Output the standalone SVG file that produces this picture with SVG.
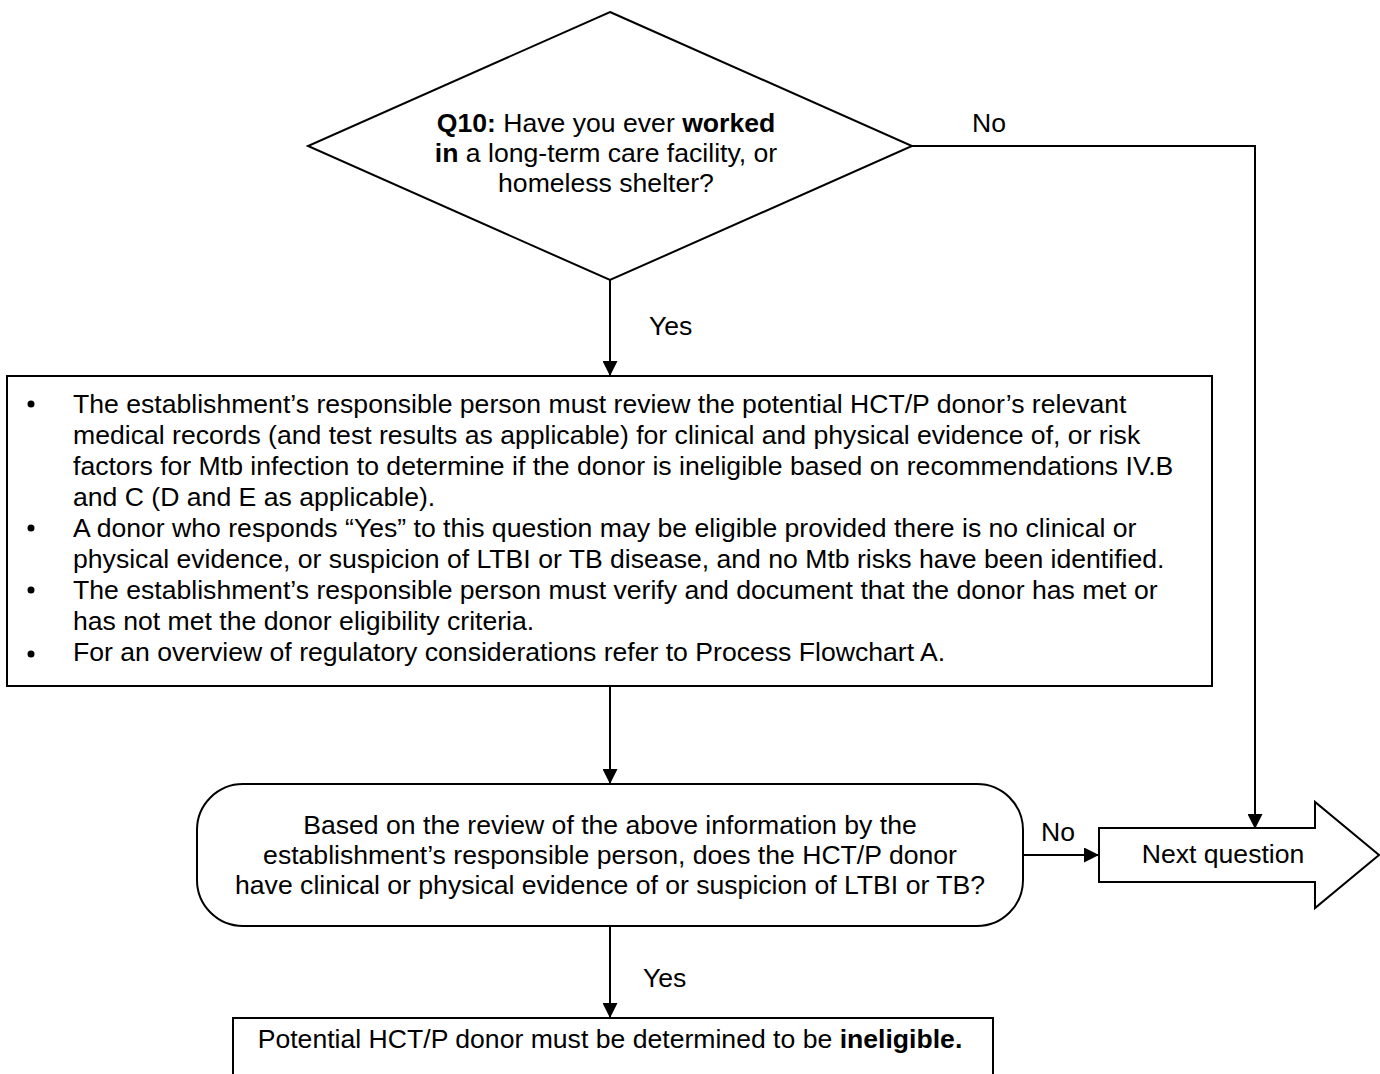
<svg xmlns="http://www.w3.org/2000/svg" width="1380" height="1074" viewBox="0 0 1380 1074">
  <style>
    text { font-family: "Liberation Sans", Arial, sans-serif; font-size: 26.6px; fill: #000; }
    .c { text-anchor: middle; }
    .b { font-weight: bold; }
    .shape { fill: #fff; stroke: #000; stroke-width: 2; }
    .wire { fill: none; stroke: #000; stroke-width: 2; }
  </style>
  <defs>
    <marker id="ah" markerWidth="15" markerHeight="15" refX="15" refY="7.5" orient="auto" markerUnits="userSpaceOnUse">
      <path d="M0,0 L15,7.5 L0,15 z" fill="#000"/>
    </marker>
  </defs>
  <rect width="1380" height="1074" fill="#fff"/>

  <!-- connectors -->
  <g id="connectors">
    <path class="wire" d="M610,280 V376" marker-end="url(#ah)"/>
    <path class="wire" d="M912,146 H1255 V829" marker-end="url(#ah)"/>
    <path class="wire" d="M610,686 V784" marker-end="url(#ah)"/>
    <path class="wire" d="M1023,855 H1099" marker-end="url(#ah)"/>
    <path class="wire" d="M610,926 V1018" marker-end="url(#ah)"/>
    <text x="649" y="335">Yes</text>
    <text x="972" y="132">No</text>
    <text x="1041" y="841">No</text>
    <text x="643" y="987">Yes</text>
  </g>

  <!-- Q10 decision -->
  <g id="q10">
    <polygon class="shape" points="610,12 912,146 610,280 308,146"/>
    <text class="c" x="606" y="132"><tspan class="b">Q10:</tspan> Have you ever <tspan class="b">worked</tspan></text>
    <text class="c" x="606" y="162"><tspan class="b">in</tspan> a long-term care facility, or</text>
    <text class="c" x="606" y="192">homeless shelter?</text>
  </g>

  <!-- review instructions -->
  <g id="review">
    <rect class="shape" x="7" y="376" width="1205" height="310"/>
    <g>
      <circle cx="31" cy="404" r="3.5"/>
      <circle cx="31" cy="528" r="3.5"/>
      <circle cx="31" cy="590" r="3.5"/>
      <circle cx="31" cy="654" r="3.5"/>
    </g>
    <text x="73" y="413">The establishment’s responsible person must review the potential HCT/P donor’s relevant</text>
    <text x="73" y="444">medical records (and test results as applicable) for clinical and physical evidence of, or risk</text>
    <text x="73" y="475">factors for Mtb infection to determine if the donor is ineligible based on recommendations IV.B</text>
    <text x="73" y="506">and C (D and E as applicable).</text>
    <text x="73" y="537">A donor who responds “Yes” to this question may be eligible provided there is no clinical or</text>
    <text x="73" y="568">physical evidence, or suspicion of LTBI or TB disease, and no Mtb risks have been identified.</text>
    <text x="73" y="599">The establishment’s responsible person must verify and document that the donor has met or</text>
    <text x="73" y="630">has not met the donor eligibility criteria.</text>
    <text x="73" y="661">For an overview of regulatory considerations refer to Process Flowchart A.</text>
  </g>

  <!-- evidence decision -->
  <g id="evidence">
    <rect class="shape" x="197" y="784" width="826" height="142" rx="46" ry="46"/>
    <text class="c" x="610" y="834">Based on the review of the above information by the</text>
    <text class="c" x="610" y="864">establishment’s responsible person, does the HCT/P donor</text>
    <text class="c" x="610" y="894">have clinical or physical evidence of or suspicion of LTBI or TB?</text>
  </g>

  <!-- next question -->
  <g id="next">
    <polygon class="shape" points="1099,828 1315,828 1315,802 1379,855 1315,908 1315,882 1099,882"/>
    <text class="c" x="1223" y="863">Next question</text>
  </g>

  <!-- outcome -->
  <g id="ineligible">
    <rect class="shape" x="233" y="1018" width="760" height="70"/>
    <text class="c" x="610" y="1048">Potential HCT/P donor must be determined to be <tspan class="b">ineligible.</tspan></text>
  </g>
</svg>
